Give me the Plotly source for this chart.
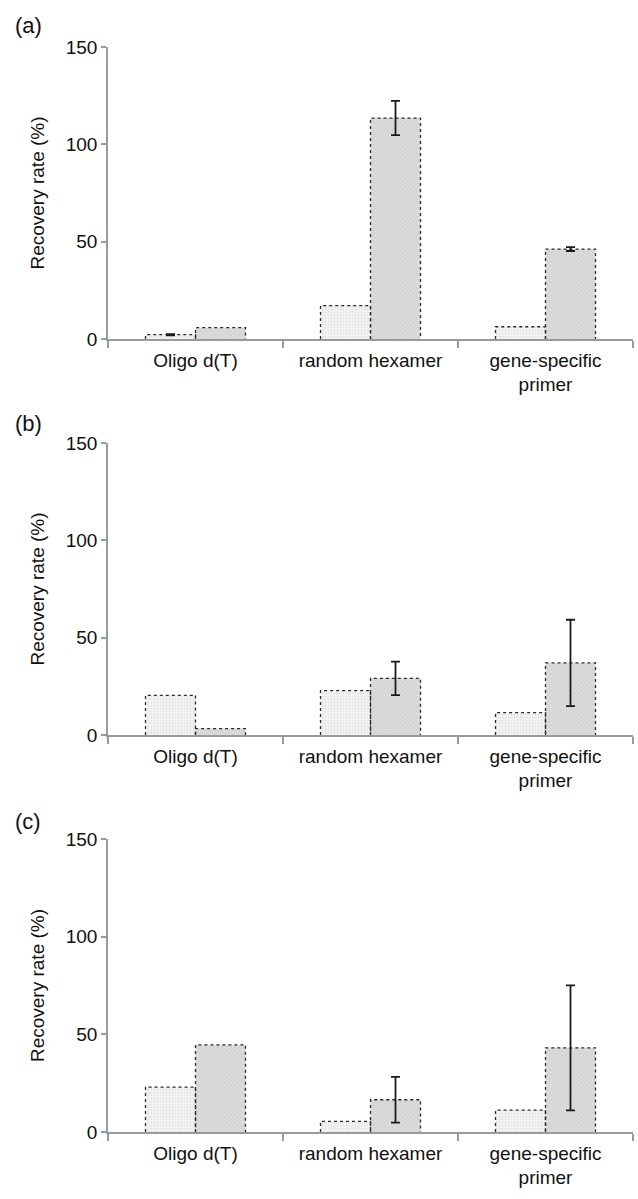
import plotly.graph_objects as go

categories = ["Oligo d(T)", "random hexamer", "gene-specific<br>primer"]
panel_labels = ["(a)", "(b)", "(c)"]

# values per panel: light (first) bars and dark (second) bars
light_a = [2.2, 17.1, 6.3]
dark_a = [5.8, 113.5, 46.2]
light_err_a = [0.3, None, None]
dark_err_a = [None, 8.8, 1.0]

light_b = [20.4, 22.8, 11.5]
dark_b = [3.3, 29.1, 37.0]
light_err_b = [None, None, None]
dark_err_b = [None, 8.6, 22.2]

light_c = [23.0, 5.4, 11.2]
dark_c = [44.6, 16.5, 43.1]
light_err_c = [None, None, None]
dark_err_c = [None, 11.7, 32.0]

panels = [
    (light_a, dark_a, light_err_a, dark_err_a),
    (light_b, dark_b, light_err_b, dark_err_b),
    (light_c, dark_c, light_err_c, dark_err_c),
]

y_ticks = [0, 50, 100, 150]

W, H = 638, 1199
# pixel extents of each plot area (top, bottom)
plot_px = [(47, 339), (443, 735), (839, 1132)]
x_px = (108, 633)
label_px = [(13, 25), (13, 423), (13, 822)]

BW = 0.2857
idx = list(range(len(categories)))

fig = go.Figure()
FONT = "Liberation Sans, Arial, Helvetica, sans-serif"
AX_COL = "#9a9a9a"

def outline(xs, vals, off):
    px, py = [], []
    for x, v in zip(xs, vals):
        x0 = x + off
        x1 = x0 + BW
        px += [x0, x0, x1, x1, None]
        py += [0, v, v, 0, None]
    return px, py

def err_points(xs, vals, errs, off):
    ex, ey, ee = [], [], []
    for x, v, e in zip(xs, vals, errs):
        if e is not None:
            ex.append(x + off + BW / 2)
            ey.append(v)
            ee.append(e)
    return ex, ey, ee

for i, (lt, dk, le, de) in enumerate(panels):
    n = "" if i == 0 else str(i + 1)
    xa, ya = "x" + n, "y" + n
    fig.add_trace(go.Bar(
        x=idx, y=lt, width=BW, offset=-BW, xaxis=xa, yaxis=ya,
        marker=dict(color="#f3f3f3", line=dict(width=0),
                    pattern=dict(shape=".", fgcolor="#c8c8c8", bgcolor="#f5f5f5", size=3, solidity=0.3)),
        showlegend=False, hoverinfo="skip"))
    fig.add_trace(go.Bar(
        x=idx, y=dk, width=BW, offset=0, xaxis=xa, yaxis=ya,
        marker=dict(color="#d6d6d6", line=dict(width=0),
                    pattern=dict(shape="x", fgcolor="#b4b4b4", bgcolor="#dcdcdc", size=3, solidity=0.3)),
        showlegend=False, hoverinfo="skip"))
    for vals, off in ((lt, -BW), (dk, 0)):
        ox, oy = outline(idx, vals, off)
        fig.add_trace(go.Scatter(x=ox, y=oy, mode="lines", xaxis=xa, yaxis=ya,
                                 line=dict(color="#2a2a2a", width=1.3, dash="dot"),
                                 showlegend=False, hoverinfo="skip"))
    for vals, errs, off in ((lt, le, -BW), (dk, de, 0)):
        ex, ey, ee = err_points(idx, vals, errs, off)
        if ex:
            fig.add_trace(go.Scatter(x=ex, y=ey, mode="markers", xaxis=xa, yaxis=ya,
                                     marker=dict(size=1, color="rgba(0,0,0,0)"),
                                     error_y=dict(type="data", array=ee, visible=True,
                                                  color="#1a1a1a", thickness=1.8, width=4.5),
                                     showlegend=False, hoverinfo="skip"))

    top, bot = plot_px[i]
    yd = [1 - bot / H, 1 - top / H]
    xd = [x_px[0] / W, x_px[1] / W]
    fig.update_layout(**{
        ("xaxis" + n): dict(domain=xd, range=[-0.5, 2.5], anchor=ya, automargin=False,
                             tickvals=idx, ticktext=categories, ticks="",
                             ticklabelstandoff=3,
                             showline=True, linecolor=AX_COL, linewidth=1.5,
                             showgrid=False, zeroline=False,
                             tickfont=dict(size=19, color="#111", family=FONT),
                             minor=dict(tickvals=[-0.5, 0.5, 1.5, 2.5], ticks="outside",
                                        ticklen=7, tickcolor=AX_COL, tickwidth=1.5, showgrid=False)),
        ("yaxis" + n): dict(domain=yd, range=[0, 150], anchor=xa, automargin=False,
                             tickvals=y_ticks, ticks="outside", ticklen=5,
                             tickcolor=AX_COL, tickwidth=1.5,
                             showline=True, linecolor=AX_COL, linewidth=1.5,
                             showgrid=False, zeroline=False,
                             tickfont=dict(size=19, color="#111", family=FONT),
                             title=dict(text="Recovery rate (%)", standoff=16,
                                        font=dict(size=19, color="#111", family=FONT))),
    })
    lx, ly = label_px[i]
    fig.add_annotation(text=panel_labels[i], xref="paper", yref="paper",
                       x=lx / W, y=1 - ly / H, xanchor="left", yanchor="middle",
                       showarrow=False, font=dict(size=22, color="#111", family=FONT))

fig.update_layout(width=W, height=H, margin=dict(l=0, r=0, t=0, b=0, autoexpand=False),
                  plot_bgcolor="white", paper_bgcolor="white", barmode="overlay",
                  font=dict(family=FONT))

fig.write_html("out.html")
